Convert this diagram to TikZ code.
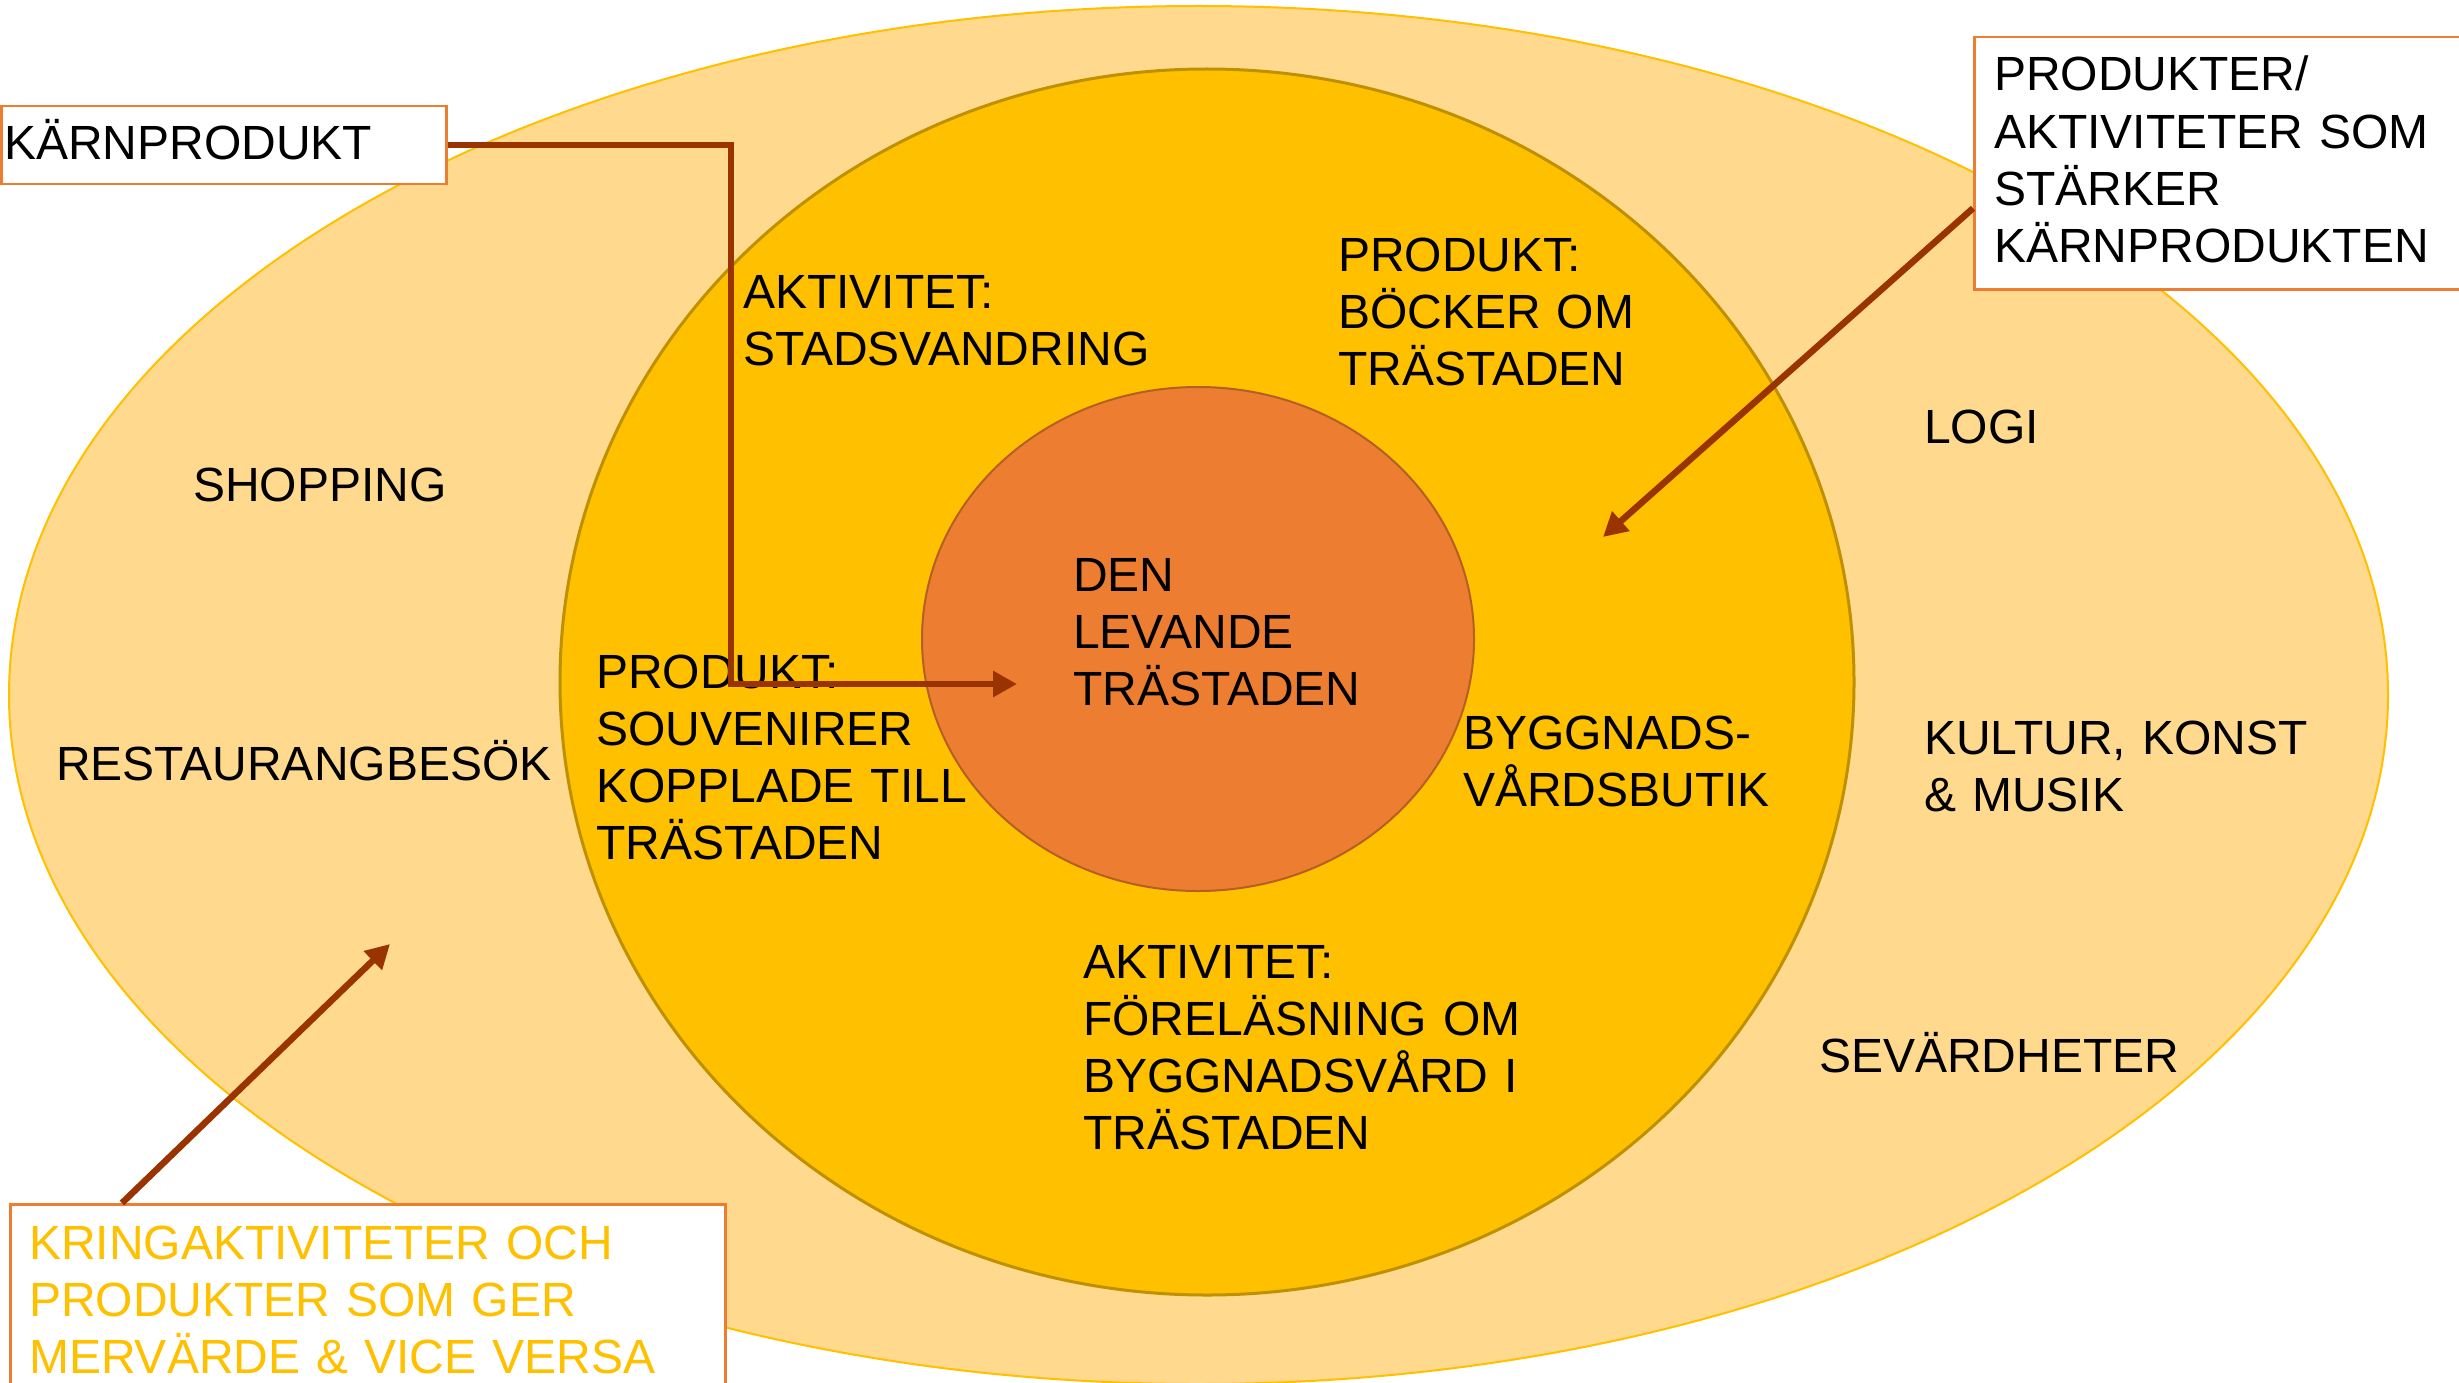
\documentclass[tikz,border=0pt]{standalone}
\usepackage{fontspec}
\setmainfont{Liberation Sans}
\usetikzlibrary{arrows.meta,calc}
\definecolor{outerfill}{RGB}{255,217,142}
\definecolor{outerline}{RGB}{255,192,0}
\definecolor{midfill}{RGB}{255,192,0}
\definecolor{midline}{RGB}{191,144,0}
\definecolor{corefill}{RGB}{237,125,49}
\definecolor{coreline}{RGB}{180,95,35}
\definecolor{arrowcol}{RGB}{153,51,0}
\definecolor{boxline}{RGB}{237,125,49}
\definecolor{goldtext}{RGB}{255,192,0}
\begin{document}
\begin{tikzpicture}[x=1pt,y=-1pt,
  txt/.style={anchor=base west, inner sep=0pt, align=left, text width=700pt,
    font=\fontsize{48}{57.3}\selectfont},
  labelbox/.style={draw=boxline, line width=2.5pt, fill=white, inner sep=0pt, anchor=north west},
  conn/.style={draw=arrowcol, line width=6.5pt, -{Triangle[length=24pt,width=25pt]}}
]
\useasboundingbox (0,0) rectangle (2459,1383);
\clip (0,0) rectangle (2459,1383);
% rings
\draw[fill=outerfill, draw=outerline, line width=2pt] (1198.5,695) ellipse [x radius=1189.5pt, y radius=689pt];
\draw[fill=midfill, draw=midline, line width=3pt] (1207,682) ellipse [x radius=647pt, y radius=613pt];
\draw[fill=corefill, draw=coreline, line width=2pt] (1198,639) ellipse [x radius=276pt, y radius=252pt];
% texts in rings
\node[txt] (t1) at (743,308) {AKTIVITET:\\STADSVANDRING};
\node[txt] (t2) at (1338,271) {PRODUKT:\\BÖCKER OM\\TRÄSTADEN};
\node[txt] (t3) at (1924,443) {LOGI};
\node[txt] (t4) at (193,501) {SHOPPING};
\node[txt] (t5) at (1073,591) {DEN\\LEVANDE\\TRÄSTADEN};
\node[txt] (t6) at (596,688) {PRODUKT:\\SOUVENIRER\\KOPPLADE TILL\\TRÄSTADEN};
\node[txt] (t7) at (56,780) {RESTAURANGBESÖK};
\node[txt] (t8) at (1463,749) {BYGGNADS-\\VÅRDSBUTIK};
\node[txt] (t9) at (1924,754) {KULTUR, KONST\\\& MUSIK};
\node[txt] (t10) at (1083,978) {AKTIVITET:\\FÖRELÄSNING OM\\BYGGNADSVÅRD I\\TRÄSTADEN};
\node[txt] (t11) at (1819,1072) {SEVÄRDHETER};
% connector coordinates
\coordinate (kpbend) at (731,684);
\coordinate (kptip) at (1017,684);
\coordinate (patip) at (1603,537);
\coordinate (katip) at (390,944);
% boxes
\node[labelbox, minimum width=445pt, minimum height=78pt] (kp) at (0,105) {};
\node[txt] (kptext) at (4,160) {KÄRNPRODUKT};
\node[labelbox, minimum width=520pt, minimum height=252pt] (pa) at (1973,36) {};
\node[txt] (patext) at (1994,91) {PRODUKTER/\\AKTIVITETER SOM\\STÄRKER\\KÄRNPRODUKTEN};
\node[labelbox, minimum width=715pt, minimum height=260pt] (ka) at (9,1203) {};
\node[txt, text=goldtext] (katext) at (29,1259) {KRINGAKTIVITETER OCH\\PRODUKTER SOM GER\\MERVÄRDE \& VICE VERSA};
% connectors
\draw[conn] (kp.east) -| (kpbend) -- (kptip);
\draw[conn] ([yshift=-45pt]pa.west) -- (patip);
\draw[conn] ([xshift=113pt]ka.north west) -- (katip);
\end{tikzpicture}
\end{document}
